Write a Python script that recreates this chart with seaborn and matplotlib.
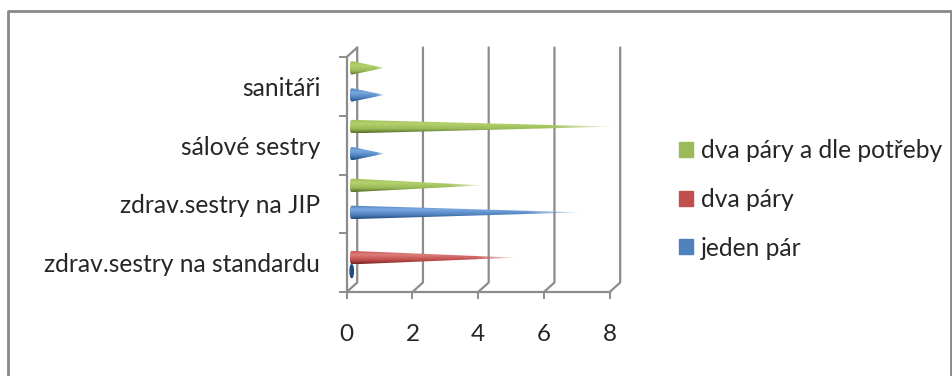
import numpy as np
import pandas as pd
import seaborn as sns
import matplotlib
matplotlib.use('Agg')
import matplotlib.pyplot as plt
from matplotlib.lines import Line2D
from matplotlib.patches import Patch, Polygon, Ellipse
from matplotlib.transforms import IdentityTransform, offset_copy

categories = ['zdrav.sestry na standardu', 'zdrav.sestry na JIP', 'sálové sestry', 'sanitáři']
series = ['jeden pár', 'dva páry', 'dva páry a dle potřeby']
jeden_par = [0, 7, 1, 1]
dva_pary = [5, 0, 0, 0]
dva_pary_dle = [0, 4, 8, 1]
x_ticks = [0, 2, 4, 6, 8]

colors = ['#4f81bd', '#c0504d', '#9bbb59']
shades = [('#1f4a7d', '#4f81bd', '#7aa8e0'),
          ('#7a2623', '#c0504d', '#dd7d79'),
          ('#566d28', '#9bbb59', '#b4d26c')]
GRAY = '#8c8c8c'
TEXT = '#262626'

sns.set_theme(style='white')
plt.rcParams['font.family'] = ['Lato', 'DejaVu Sans']

df = pd.DataFrame({'kategorie': categories * 3,
                   'serie': [s for s in series for _ in categories],
                   'pocet': jeden_par + dva_pary + dva_pary_dle})

fig = plt.figure(figsize=(9.53, 3.76), dpi=100)
W, H = 953, 376
ax = fig.add_axes([346.7 / W, 1 - 292 / H, 263 / W, 235 / H])

sns.barplot(data=df, y='kategorie', x='pocet', hue='serie', hue_order=series,
            order=categories, palette=colors, width=0.69, ax=ax, legend=False)
bars = [p for p in ax.patches]
ax.set_xlim(0, 8)
ax.set_ylim(-0.5, 3.5)
ax.set_xlabel('')
ax.set_ylabel('')
ax.set_xticks(x_ticks)
ax.set_facecolor('none')

# axis look
for name, sp in ax.spines.items():
    sp.set_visible(name in ('left', 'bottom'))
    sp.set_color(GRAY)
    sp.set_linewidth(1.6)
ax.tick_params(axis='x', length=5, width=1.4, color=GRAY, labelsize=17.5,
               labelcolor=TEXT, pad=18, bottom=True)
ax.tick_params(axis='y', length=0, labelsize=17.7, labelcolor=TEXT, pad=19)
ax.set_yticks(np.arange(-0.5, 4), minor=True)
ax.tick_params(axis='y', which='minor', length=6, width=1.4, color=GRAY, left=True)

# back wall of the fake 3d box, in pixels
dx, dy = 10.5, 9.5
px = IdentityTransform()
for v in x_ticks:
    x0, y0 = ax.transData.transform((v, -0.5))
    x1, y1 = ax.transData.transform((v, 3.5))
    ax.add_line(Line2D([x0, x0 + dx, x0 + dx], [y0, y0 + dy, y1 + dy], transform=px,
                       color=GRAY, lw=1.6, zorder=1, clip_on=False))
x0, y0 = ax.transData.transform((0, 3.5))
ax.add_line(Line2D([x0, x0 + dx], [y0, y0 + dy], transform=px,
                   color=GRAY, lw=1.6, zorder=1, clip_on=False))

# turn seaborn's bars into cones
cone_tr = offset_copy(ax.transData, fig=fig, x=5, y=5, units='dots')
n_cat = len(categories)
base = 0.06
for i, bar in enumerate(bars[:n_cat * 3]):
    bar.set_visible(False)
    low, mid, high = [np.array(matplotlib.colors.to_rgb(c)) for c in shades[i // n_cat]]
    val = bar.get_width()
    y, h = bar.get_y(), bar.get_height()
    if val == 0:
        if i // n_cat == 0:
            ax.add_patch(Ellipse((0, y + h / 2), 0.1, h * 0.95, transform=cone_tr,
                                 color=low, zorder=3, clip_on=False))
        continue
    rows = np.linspace(0, 1, 48)
    cols = np.linspace(0, 1, 300)
    img = np.zeros((48, 300, 4))
    for c in range(3):
        img[:, :, c] = np.interp(rows, [0, 0.3, 0.68, 1],
                                 [low[c], mid[c], high[c], mid[c]])[:, None]
    img[:, :, 3] = np.interp(cols, [0, 0.75, 1], [1, 1, 0.15])[None, :]
    im = ax.imshow(img, extent=(-base, val, y, y + h), origin='lower', aspect='auto',
                   transform=cone_tr, zorder=3, interpolation='bilinear')
    im.set_clip_box(fig.bbox)
    # rounded base, then straight sides out to the tip
    ang = np.linspace(np.pi / 2, 3 * np.pi / 2, 20)
    outline = np.column_stack([base * np.cos(ang), y + h / 2 + h / 2 * np.sin(ang)])
    outline = np.vstack([outline, [val, y + h / 2]])
    im.set_clip_path(Polygon(outline, transform=cone_tr))
ax.set_xlim(0, 8)
ax.set_ylim(-0.5, 3.5)
ax.set_aspect('auto')

handles = [Patch(color=colors[i], label=series[i]) for i in [2, 1, 0]]
fig.legend(handles=handles, loc='upper left', bbox_to_anchor=(679 / W, 1 - 139 / H),
           frameon=False, fontsize=17.7, labelcolor=TEXT, handlelength=0.56,
           handleheight=0.56, handletextpad=0.33, labelspacing=1.05, borderpad=0,
           borderaxespad=0)

# outer chart frame
fig.add_artist(Line2D([8 / W, 8 / W, 951 / W, 951 / W],
                      [0, 1 - 11 / H, 1 - 11 / H, 0], color='#888888', lw=2))

fig.savefig('out.png', dpi=100)
